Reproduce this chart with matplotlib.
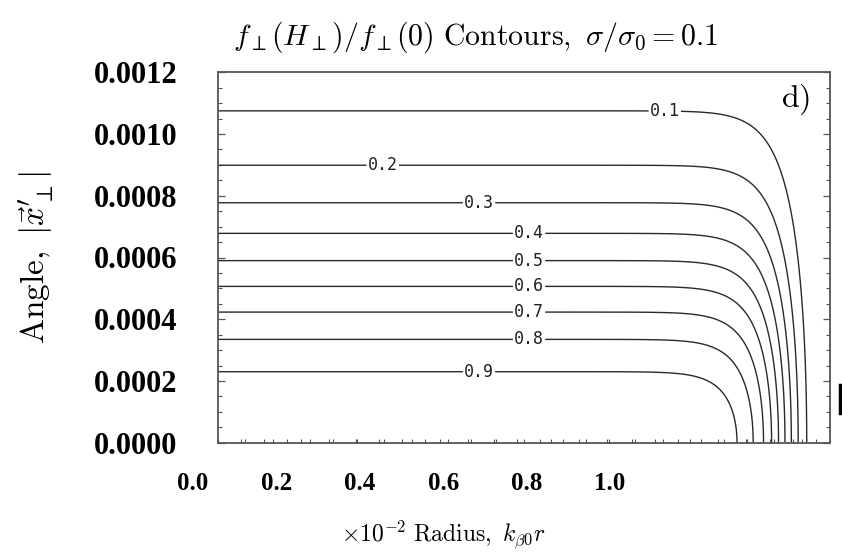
import numpy as np
import matplotlib
matplotlib.use("Agg")
import matplotlib.pyplot as plt
from matplotlib.lines import Line2D
from matplotlib.ticker import MultipleLocator

plt.rcParams['mathtext.fontset'] = 'cm'

# ---- data ----
levels = [0.1, 0.2, 0.3, 0.4, 0.5, 0.6, 0.7, 0.8, 0.9]
level_labels = ['0.1', '0.2', '0.3', '0.4', '0.5', '0.6', '0.7', '0.8', '0.9']
label_radius = [0.804, 0.297, 0.470, 0.560, 0.560, 0.560, 0.560, 0.560, 0.470]
angle_spread = 0.000501      # Gaussian width in angle (from contour heights at r=0)
edge_radius = 1.0236         # beam edge position
edge_sharpness = 24.5        # steepness of the edge
x_tick_values = [0.0, 0.2, 0.4, 0.6, 0.8, 1.0]
x_tick_labels = ['0.0', '0.2', '0.4', '0.6', '0.8', '1.0']
y_tick_values = [0.0, 0.0002, 0.0004, 0.0006, 0.0008, 0.0010, 0.0012]
y_tick_labels = ['0.0000', '0.0002', '0.0004', '0.0006', '0.0008', '0.0010', '0.0012']

# ---- field f(H)/f(0) on a grid ----
r = np.linspace(0, 1.1, 800)
xp = np.linspace(0, 0.0012, 600)
R, XP = np.meshgrid(r, xp)
F = np.exp(-XP**2 / (2 * angle_spread**2) - (R / edge_radius)**edge_sharpness)

W, H = 842, 557
fig = plt.figure(figsize=(W / 100, H / 100), dpi=100)

L, Rr, B, T = 217.5, 829.5, 442.7, 72.3
ax = fig.add_axes([L / W, 1 - B / H, (Rr - L) / W, (B - T) / H])
ax.set_xlim(0, 1.1)
ax.set_ylim(0, 0.0012)

cs = ax.contour(R, XP, F, levels=levels, colors='#2a2a2a', linewidths=1.0)
fmt = dict(zip(cs.levels, level_labels))
manual = [(xr, angle_spread * np.sqrt(-2 * np.log(lv))) for xr, lv in zip(label_radius, levels)]
ax.clabel(cs, inline=True, fmt=fmt, manual=manual, inline_spacing=3,
          fontsize=12, colors='#222222')
for t in cs.labelTexts:
    t.set_family('DejaVu Sans Mono')
    t.set_rotation(0)

for s in ax.spines.values():
    s.set_color('#555555')
    s.set_linewidth(1.3)

# top ticks (every 0.05), no labels
ax.xaxis.set_ticks_position('top')
ax.xaxis.set_major_locator(MultipleLocator(0.05))
ax.tick_params(axis='x', which='both', direction='in', length=3, width=0.8,
               color='#555555', labeltop=False, labelbottom=False)

# y ticks on both sides
ax.set_yticks(y_tick_values)
ax.set_yticklabels(y_tick_labels, fontfamily='Liberation Serif', fontweight='bold', fontsize=22)
ax.yaxis.set_minor_locator(MultipleLocator(0.00005))
ax.yaxis.set_ticks_position('both')
ax.tick_params(axis='y', which='major', direction='in', length=5, width=0.9,
               color='#555555', pad=29)
ax.tick_params(axis='y', which='minor', direction='in', length=3, width=0.8,
               color='#555555')

# bottom tick marks (separate spacing)
axb = ax.twiny()
axb.set_xlim(0, 1.064)
axb.xaxis.set_ticks_position('bottom')
axb.xaxis.set_major_locator(MultipleLocator(0.04))
axb.tick_params(axis='x', direction='in', length=3, width=0.8, color='#555555',
                labelbottom=False, labeltop=False)
for s in axb.spines.values():
    s.set_visible(False)

# bottom tick labels (placed as in the reference)
lx0, lx1 = 193, 610
axl = fig.add_axes([lx0 / W, 1 - B / H, (lx1 - lx0) / W, 0.0001])
axl.set_xlim(0, 1.0)
axl.set_xticks(x_tick_values)
axl.set_xticklabels(x_tick_labels, fontfamily='Liberation Serif', fontweight='bold', fontsize=18)
axl.tick_params(axis='x', length=0, pad=21)
axl.set_yticks([])
for s in axl.spines.values():
    s.set_visible(False)
axl.patch.set_visible(False)

# text
fig.text(475 / W, 1 - 37 / H, r"$f_\perp(H_\perp)/f_\perp(0)\ \mathrm{Contours},\ \sigma/\sigma_0=0.1$",
         ha='center', va='center', fontsize=21.5)
fig.text(443 / W, 1 - 535 / H, r"$\times10^{-2}\ \mathrm{Radius},\ k_{\beta0}r$",
         ha='center', va='center', fontsize=17)
fig.text(37 / W, 1 - 258 / H, r"$\mathrm{Angle},\ |\vec{x}^{\prime}_{\perp}|$",
         ha='center', va='center', rotation=90, fontsize=24)
ax.text(0.945, 0.925, r"$\mathrm{d)}$", transform=ax.transAxes, ha='center', va='center',
        fontsize=23)

# stray bar at right edge of the reference image
fig.add_artist(Line2D([839.5 / W, 839.5 / W], [1 - 385 / H, 1 - 413 / H],
                      transform=fig.transFigure, color='black', linewidth=2.5))

fig.savefig('out.png', dpi=100)
